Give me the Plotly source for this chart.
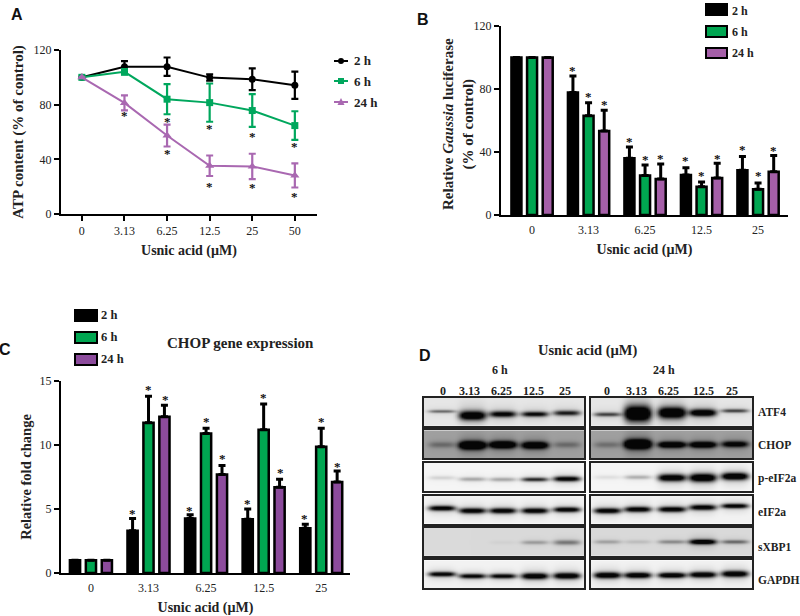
import numpy as np
import plotly.graph_objects as go

W, H = 800, 616
SERIF = "Liberation Serif"
SANS = "Liberation Sans"
BLACK = "#000000"
GREEN_A, PURPLE_A = "#00A75D", "#A968B1"
GREEN_B, PURPLE_B = "#00A651", "#A55FA8"
GREEN_C, PURPLE_C = "#00A651", "#8C4B9C"

series = ["2 h", "6 h", "24 h"]

# Panel A
a_cats = ["0", "3.13", "6.25", "12.5", "25", "50"]
a_2h = [100, 107.8, 107.8, 99.8, 98.6, 94.2]
a_6h = [100, 104, 84, 81.5, 75.7, 64.7]
a_24h = [100, 81.3, 57.4, 35.3, 34.8, 28.2]
a_2h_err = [0, 4, 6.7, 2.3, 8, 10]
a_6h_err = [0, 2, 11, 14, 12, 10.5]
a_24h_err = [0, 5.5, 8, 7.5, 9.3, 8.8]
a_star_cat = ["3.13", "6.25", "6.25", "12.5", "12.5", "25", "25", "50", "50"]
a_star_val = [72.5, 68.4, 45, 63.3, 21, 57.4, 20, 50, 13.6]

# Panel B
b_cats = ["0", "3.13", "6.25", "12.5", "25"]
b_2h = [100, 77.7, 36, 25.4, 28.4]
b_6h = [100, 63, 25, 18, 16.3]
b_24h = [100, 53.3, 22.9, 23.5, 27.5]
b_2h_err = [0, 10.6, 7.2, 4.6, 8.8]
b_6h_err = [0, 8.3, 6.7, 3, 4]
b_24h_err = [0, 13.2, 9.5, 9.3, 10.2]
b_star_2h = [None, 92.7, 47, 35, 42]
b_star_6h = [None, 76, 36, 25.8, 25.8]
b_star_24h = [None, 71, 36.2, 36.6, 41.5]

# Panel C
c_cats = ["0", "3.13", "6.25", "12.5", "25"]
c_2h = [1, 3.3, 4.25, 4.2, 3.5]
c_6h = [1, 11.74, 10.9, 11.2, 9.86]
c_24h = [1, 12.2, 7.7, 6.7, 7.1]
c_2h_err = [0, 0.95, 0.31, 0.8, 0.3]
c_6h_err = [0, 2.06, 0.4, 2.0, 1.44]
c_24h_err = [0, 0.9, 0.7, 0.63, 0.86]
c_star_2h = [None, 4.7, 5, 5.5, 4.3]
c_star_6h = [None, 14.4, 11.9, 13.8, 11.9]
c_star_24h = [None, 13.6, 9, 7.9, 8.4]

# Panel D: per lane band strength, band half-thickness and vertical centre
blot_names = ["ATF4", "CHOP", "p-eIF2a", "eIF2a", "sXBP1", "GAPDH"]
lane_labels = ["0", "3.13", "6.25", "12.5", "25"]
blot_bg = [0.10, 0.38, 0.04, 0.05, 0.15, 0.05]
lanes_6h = [.11, .30, .49, .69, .89]
lanes_24h = [.10, .29, .50, .69, .89]
strength_6h = [[.45, 1.1, .9, .85, .75], [.2, 1.1, 1.0, .9, .2], [.12, .28, .28, .75, 1.0],
               [1, 1, 1, 1, 1], [0, 0, .03, .22, .35], [1, .95, .95, 1.1, 1.1]]
thick_6h = [[1.5, 4.5, 3, 2.5, 2.5], [3, 4, 3.5, 3.5, 3], [2, 2, 2, 2, 2.5],
            [2.5, 2.7, 2.7, 2.7, 2.5], [2, 2, 2, 2, 2.5], [2.3, 2.3, 2.3, 3, 3]]
centre_6h = [[.47, .62, .57, .57, .53], [.5, .52, .5, .52, .5], [.52, .57, .58, .58, .56],
             [.43, .52, .52, .52, .48], [.5, .5, .5, .5, .5], [.48, .55, .55, .55, .54]]
strength_24h = [[.6, 1.3, 1.2, 1.1, .6], [.18, 1.2, .9, .9, .7], [.08, .25, 1.1, 1.2, 1.2],
                [1, 1, 1, 1, 1], [.2, .1, .28, 1, .4], [1.1, 1.1, 1.1, 1.1, 1.1]]
thick_24h = [[2, 7.5, 5.5, 3.5, 1.8], [3, 4.5, 3, 3, 3], [2, 2, 3.5, 4, 3.5],
             [2.7, 2.7, 2.7, 2.7, 2.3], [2, 2, 2, 2.5, 2], [3, 2.8, 2.6, 2.8, 3]]
centre_24h = [[.58, .55, .52, .52, .45], [.5, .48, .5, .5, .48], [.5, .5, .52, .52, .47],
              [.52, .47, .47, .4, .35], [.48, .48, .48, .48, .48], [.52, .52, .52, .5, .47]]


def px(x):
    return x / W


def py(y):
    return 1 - y / H


fig = go.Figure()
annots, shapes = [], []
layout = {}


def text(x, y, s, size=12, anchor="center", family=SERIF, color="#222222", bold=True, angle=0):
    annots.append(dict(xref="paper", yref="paper", x=px(x), y=py(y), text=f"<b>{s}</b>" if bold else s,
                       showarrow=False, xanchor=anchor, yanchor="middle", textangle=angle,
                       font=dict(family=family, size=size, color=color)))


def make_axes(i, x0, x1, ytop, ybot, cats, xr, yr, yticks, xtitle, ytitle, xstand, ystand, ysize, label_gap):
    xa = dict(domain=[px(x0), px(x1)], range=xr, type="category", categoryorder="array", categoryarray=cats,
              showline=True, linecolor="#000", linewidth=2, showgrid=False, zeroline=False,
              ticks="outside" if label_gap == 0 else "", ticklen=5, tickwidth=2, tickcolor="#000",
              tickfont=dict(family=SERIF, size=12, color="#222"),
              anchor=f"y{i}", title=dict(text=f"<b>{xtitle}</b>", standoff=xstand,
                                         font=dict(family=SERIF, size=14, color="#222")))
    if label_gap:
        xa["ticklabelstandoff"] = label_gap
    ya = dict(domain=[py(ybot), py(ytop)], range=yr, tickvals=yticks, showline=True, linecolor="#000", linewidth=2,
              showgrid=False, zeroline=False, ticks="outside", ticklen=5, tickwidth=2, tickcolor="#000",
              tickfont=dict(family=SERIF, size=12, color="#222"), anchor=f"x{i}")
    if ytitle:
        ya["title"] = dict(text=ytitle, standoff=ystand, font=dict(family=SERIF, size=ysize, color="#222"))
    layout[f"xaxis{i}"] = xa
    layout[f"yaxis{i}"] = ya


# ---------- Panel A ----------
make_axes(1, 61, 317, 50, 214, a_cats, [-0.49, 5.52], [0, 120], [0, 40, 80, 120],
          "Usnic acid (µM)", "<b>ATP content (% of control)</b>", 8, 6, 15, 0)
for name, vals, errs, col, sym, size in [("2 h", a_2h, a_2h_err, "#000", "circle", 7),
                                         ("6 h", a_6h, a_6h_err, GREEN_A, "square", 7),
                                         ("24 h", a_24h, a_24h_err, PURPLE_A, "triangle-up", 8)]:
    fig.add_trace(go.Scatter(x=a_cats, y=vals, name=name, mode="lines+markers", xaxis="x1", yaxis="y1",
                             line=dict(color=col, width=2), marker=dict(color=col, symbol=sym, size=size),
                             error_y=dict(type="data", array=errs, color=col, thickness=2.2, width=3.5),
                             showlegend=False))


def star(xaxis, yaxis, x, y, xshift=0):
    annots.append(dict(xref=xaxis, yref=yaxis, x=x, y=y, text="<b>*</b>", showarrow=False, xshift=xshift, yshift=-1,
                       font=dict(family=SERIF, size=13, color="#111")))


for c, v in zip(a_star_cat, a_star_val):
    star("x1", "y1", a_cats.index(c), v)

# ---------- Panels B and C ----------
BAR_OFF = {"B": 15.7, "C": 16.5}


def bars(i, cats, vals, errs, cols, stars, off):
    for name, v, e, col in zip(series, vals, errs, cols):
        fig.add_trace(go.Bar(x=cats, y=v, name=name, xaxis=f"x{i}", yaxis=f"y{i}", showlegend=False,
                             marker=dict(color=col, line=dict(color="#000", width=2.5)),
                             error_y=dict(type="data", symmetric=False, array=e, arrayminus=[0] * len(e),
                                          color="#000", thickness=3, width=3.5)))
    for k, st in enumerate(stars):
        for ci, y in enumerate(st):
            if y is not None:
                star(f"x{i}", f"y{i}", ci, y, xshift=(k - 1) * off)


make_axes(2, 501, 788, 26, 215, b_cats, [-0.55, 4.53], [0, 120], [0, 40, 80, 120],
          "Usnic acid (µM)", None, 8, 0, 15, 3)
bars(2, b_cats, [b_2h, b_6h, b_24h], [b_2h_err, b_6h_err, b_24h_err], [BLACK, GREEN_B, PURPLE_B],
     [b_star_2h, b_star_6h, b_star_24h], BAR_OFF["B"])
text(458, 124, "Relative <i>Gaussia</i> luciferase<br>(% of control)", 15, angle=-90)

make_axes(3, 61, 350, 381, 573, c_cats, [-0.52, 4.5], [0, 15], [0, 5, 10, 15],
          "Usnic acid (µM)", "<b>Relative fold change</b>", 13, 5, 14.5, 3)
bars(3, c_cats, [c_2h, c_6h, c_24h], [c_2h_err, c_6h_err, c_24h_err], [BLACK, GREEN_C, PURPLE_C],
     [c_star_2h, c_star_6h, c_star_24h], BAR_OFF["C"])

# ---------- Legends ----------
for lab, col, y, kind in [("2 h", "#000", 61, "circle"), ("6 h", GREEN_A, 81, "square"), ("24 h", PURPLE_A, 102, "tri")]:
    shapes.append(dict(type="line", xref="paper", yref="paper", x0=px(334), x1=px(348), y0=py(y), y1=py(y),
                       line=dict(color=col, width=2)))
    if kind == "circle":
        shapes.append(dict(type="circle", xref="paper", yref="paper", x0=px(338), x1=px(344), y0=py(y + 3), y1=py(y - 3),
                           fillcolor=col, line=dict(width=0)))
    elif kind == "square":
        shapes.append(dict(type="rect", xref="paper", yref="paper", x0=px(338), x1=px(344), y0=py(y + 3), y1=py(y - 3),
                           fillcolor=col, line=dict(width=0)))
    else:
        shapes.append(dict(type="path", xref="paper", yref="paper",
                           path=f"M {px(337.5)} {py(y + 3)} L {px(344.5)} {py(y + 3)} L {px(341)} {py(y - 4)} Z",
                           fillcolor=col, line=dict(width=0)))
    text(352, y, lab, 13, anchor="left")


def swatch(x0, x1, y0, y1, col, lab, tx, ty, size):
    shapes.append(dict(type="rect", xref="paper", yref="paper", x0=px(x0), x1=px(x1), y0=py(y1), y1=py(y0),
                       fillcolor=col, line=dict(color="#000", width=2)))
    text(tx, ty, lab, size, anchor="left")


for lab, col, y0, y1, ty in [("2 h", BLACK, 4, 15, 11), ("6 h", GREEN_B, 26, 37, 32), ("24 h", PURPLE_B, 48, 58, 53)]:
    swatch(706, 727, y0, y1, col, lab, 729.5, ty, 12)
for lab, col, y0, y1, ty in [("2 h", BLACK, 310, 321, 315), ("6 h", GREEN_C, 332, 343, 337), ("24 h", PURPLE_C, 354, 365, 359)]:
    swatch(75, 97, y0, y1, col, lab, 98.5, ty, 12.5)

text(240, 343, "CHOP gene expression", 15)

# ---------- Panel letters ----------
text(17, 15, "A", 16, family=SANS, color="#111")
text(423, 19, "B", 16, family=SANS, color="#111")
text(5, 349, "C", 16, family=SANS, color="#111")
text(425, 355, "D", 16, family=SANS, color="#111")

# ---------- Panel D ----------
rows = [(397.7, 426), (430.3, 458.3), (462.7, 491), (495.7, 523.7), (528, 555.7), (560.3, 588.3)]
gx = np.linspace(0, 1, 81)
gy = np.linspace(0, 1, 29)
HEIGHT_PX = 28.0


def blot(bg, lanes, strength, thick, centre):
    z = np.full((gy.size, gx.size), float(bg))
    for cx, s, t, c in zip(lanes, strength, thick, centre):
        lateral = np.exp(-((gx - cx) / 0.085) ** 4)
        dy = (gy - c) * HEIGHT_PX
        profile = np.exp(-(dy / t) ** 2) + 0.14 * np.exp(-(dy / (2.6 * t)) ** 2)
        z += s * np.outer(profile, lateral)
    return np.clip(z, 0, 1)


axis = 4
for col_i, (x0, x1, lanes, st, th, ce) in enumerate([(424, 584, lanes_6h, strength_6h, thick_6h, centre_6h),
                                                     (591, 752, lanes_24h, strength_24h, thick_24h, centre_24h)]):
    for r, (y0, y1) in enumerate(rows):
        fig.add_trace(go.Heatmap(x=gx, y=gy, z=blot(blot_bg[r], lanes, st[r], th[r], ce[r]),
                                 colorscale=[[0, "#ffffff"], [1, "#050505"]], zmin=0, zmax=1, showscale=False,
                                 zsmooth="best", xaxis=f"x{axis}", yaxis=f"y{axis}", name=blot_names[r],
                                 hoverinfo="skip"))
        layout[f"xaxis{axis}"] = dict(domain=[px(x0), px(x1)], range=[0, 1], showticklabels=False, ticks="",
                                      showgrid=False, zeroline=False, showline=True, mirror=True,
                                      linecolor="#222", linewidth=1.5, anchor=f"y{axis}")
        layout[f"yaxis{axis}"] = dict(domain=[py(y1), py(y0)], range=[1, 0], showticklabels=False, ticks="",
                                      showgrid=False, zeroline=False, showline=True, mirror=True,
                                      linecolor="#222", linewidth=1.5, anchor=f"x{axis}")
        axis += 1

for lab, y in zip(blot_names, [412, 445, 478, 512, 547, 580]):
    text(756, y, lab, 11.5, anchor="left")
for lab, x in zip(lane_labels, [443, 469.5, 502, 533, 565]):
    text(x, 391, lab, 12)
for lab, x in zip(lane_labels, [607, 636, 668, 703, 732]):
    text(x, 391, lab, 12)
text(500, 370, "6 h", 12)
text(664, 370, "24 h", 12)
text(588, 350, "Usnic acid (µM)", 14.5)

fig.update_layout(width=W, height=H, margin=dict(l=0, r=0, t=0, b=0, autoexpand=False),
                  paper_bgcolor="white", plot_bgcolor="white",
                  barmode="group", bargap=0.17, bargroupgap=0.36, showlegend=False,
                  annotations=annots, shapes=shapes, **layout)
fig.write_html("out.html", config={"displayModeBar": False},
               post_script="document.body.style.margin='0';document.documentElement.style.overflow='hidden';")
